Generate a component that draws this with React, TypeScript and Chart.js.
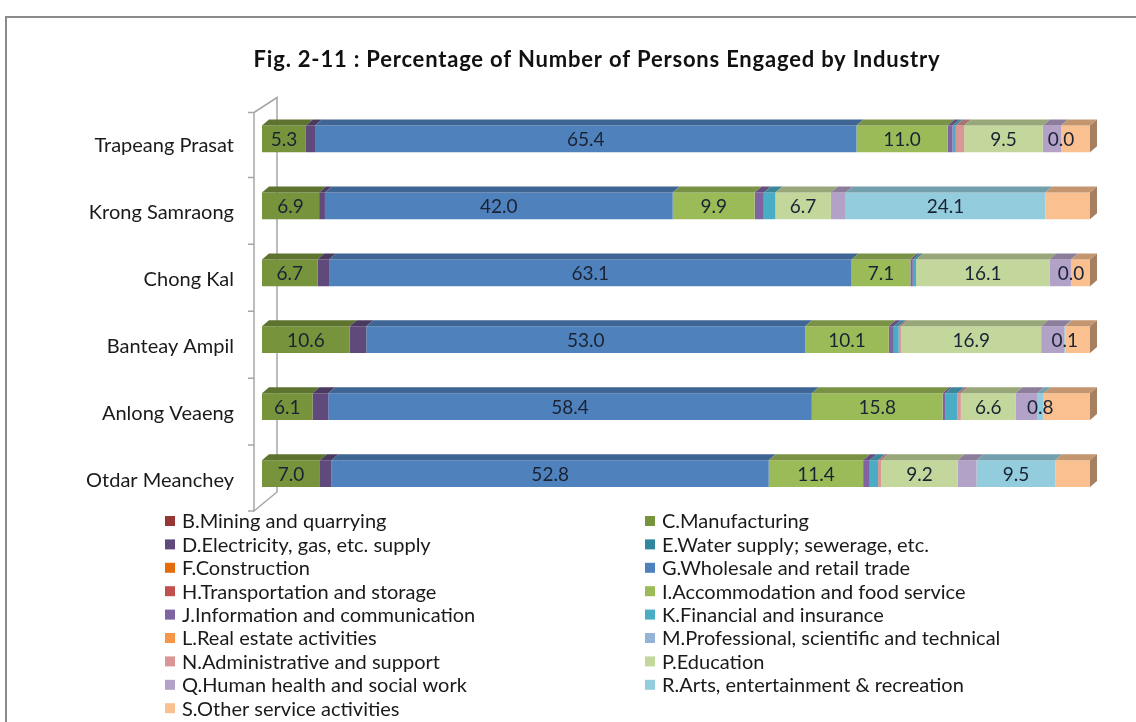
import React, { useEffect, useRef } from "react";
import { Chart, registerables } from "chart.js";

Chart.register(...registerables);

const titleText = "Fig. 2-11 : Percentage of Number of Persons Engaged by Industry";

const categories = [
  "Trapeang Prasat",
  "Krong Samraong",
  "Chong Kal",
  "Banteay Ampil",
  "Anlong Veaeng",
  "Otdar Meanchey",
];

const seriesNames = [
  "B.Mining and quarrying",
  "C.Manufacturing",
  "D.Electricity, gas, etc. supply",
  "E.Water supply; sewerage, etc.",
  "F.Construction",
  "G.Wholesale and retail trade",
  "H.Transportation and storage",
  "I.Accommodation and food service",
  "J.Information and communication",
  "K.Financial and insurance",
  "L.Real estate activities",
  "M.Professional, scientific and technical",
  "N.Administrative and support",
  "P.Education",
  "Q.Human health and social work",
  "R.Arts, entertainment & recreation",
  "S.Other service activities",
];

const mining = [0, 0, 0, 0, 0, 0];
const manufacturing = [5.3, 6.9, 6.7, 10.6, 6.1, 7.0];
const electricity = [1.1, 0.7, 1.4, 2.0, 1.9, 1.4];
const water = [0, 0, 0, 0, 0, 0];
const construction = [0, 0, 0, 0, 0, 0];
const wholesale = [65.4, 42.0, 63.1, 53.0, 58.4, 52.8];
const transport = [0, 0, 0, 0, 0, 0];
const accommodation = [11.0, 9.9, 7.1, 10.1, 15.8, 11.4];
const information = [0.6, 1.1, 0.3, 0.6, 0.3, 0.8];
const financial = [0.4, 1.4, 0.4, 0.6, 1.5, 1.0];
const realEstate = [0, 0, 0, 0, 0, 0];
const professional = [0, 0, 0, 0, 0, 0];
const administrative = [1.0, 0, 0, 0.3, 0.4, 0.4];
const education = [9.5, 6.7, 16.1, 16.9, 6.6, 9.2];
const health = [2.2, 1.8, 2.6, 2.8, 2.6, 2.3];
const arts = [0.0, 24.1, 0.0, 0.1, 0.8, 9.5];
const otherServices = [3.5, 5.4, 2.3, 3.0, 5.6, 4.2];

const seriesValues = [
  mining, manufacturing, electricity, water, construction, wholesale, transport,
  accommodation, information, financial, realEstate, professional, administrative,
  education, health, arts, otherServices,
];

const seriesColors = [
  "#953735", "#77933C", "#604A7B", "#31859C", "#E46C0A", "#4F81BD", "#C0504D",
  "#9BBB59", "#8064A2", "#4BACC6", "#F79646", "#95B3D7", "#D99694", "#C3D69B",
  "#B3A2C7", "#93CDDD", "#FAC090",
];

const labelledSeries = [
  "C.Manufacturing",
  "G.Wholesale and retail trade",
  "I.Accommodation and food service",
  "P.Education",
  "R.Arts, entertainment & recreation",
];

const FONT = "Lato, 'Open Sans', sans-serif";

function shade(hex: string, f: number) {
  const n = parseInt(hex.slice(1), 16);
  const r = Math.round(((n >> 16) & 255) * f);
  const g = Math.round(((n >> 8) & 255) * f);
  const b = Math.round((n & 255) * f);
  return `rgb(${r},${g},${b})`;
}

const DX = 7;
const DY = 6;

const titlePlugin = {
  id: "figTitle",
  afterDraw(chart: any) {
    const { ctx } = chart;
    ctx.save();
    ctx.font = `bold 22px ${FONT}`;
    (ctx as any).letterSpacing = "0.8px";
    ctx.fillStyle = "#111";
    ctx.textAlign = "center";
    ctx.textBaseline = "middle";
    ctx.fillText(titleText, 597, 60);
    ctx.restore();
  },
};

const wallPlugin = {
  id: "wall3d",
  beforeDatasetsDraw(chart: any) {
    const { ctx, chartArea } = chart;
    const ys = chart.scales.y;
    const n = categories.length;
    const step = ys.getPixelForValue(1) - ys.getPixelForValue(0);
    const fx = chartArea.left - 8;
    const bx = chartArea.left + 15;
    const fTop = chartArea.top + 7;
    const fBot = chartArea.bottom + 4;
    const bTop = chartArea.top - 8;
    const bBot = chartArea.bottom - 15;
    ctx.save();
    ctx.strokeStyle = "#a6a6a6";
    ctx.lineWidth = 1.5;
    ctx.beginPath();
    ctx.moveTo(fx, fTop);
    ctx.lineTo(fx, fBot);
    ctx.lineTo(bx, bBot);
    ctx.lineTo(bx, bTop);
    ctx.lineTo(fx, fTop);
    for (let i = 0; i <= n; i++) {
      const y = ys.getPixelForValue(0) - step / 2 + i * step + 5;
      const yy = Math.min(Math.max(y, fTop), fBot);
      ctx.moveTo(fx, yy);
      ctx.lineTo(fx - 6, yy);
    }
    ctx.stroke();
    ctx.restore();
  },
};

const barsPlugin = {
  id: "bars3d",
  afterDatasetsDraw(chart: any) {
    const { ctx } = chart;
    const dsets = chart.data.datasets;
    ctx.save();
    const lastPerRow: any[] = categories.map(() => null);
    dsets.forEach((ds: any, di: number) => {
      const meta = chart.getDatasetMeta(di);
      meta.data.forEach((el: any, i: number) => {
        const p = el.getProps(["x", "y", "base", "height"], true);
        const left = Math.min(p.x, p.base);
        const right = Math.max(p.x, p.base);
        if (right - left < 0.01) return;
        const top = p.y - p.height / 2;
        ctx.fillStyle = shade(ds.backgroundColor, 0.78);
        ctx.beginPath();
        ctx.moveTo(left, top);
        ctx.lineTo(right, top);
        ctx.lineTo(right + DX, top - DY);
        ctx.lineTo(left + DX, top - DY);
        ctx.closePath();
        ctx.fill();
        lastPerRow[i] = { right, top, bottom: p.y + p.height / 2, color: ds.backgroundColor };
      });
    });
    lastPerRow.forEach((r) => {
      if (!r) return;
      ctx.fillStyle = shade(r.color, 0.66);
      ctx.beginPath();
      ctx.moveTo(r.right, r.top);
      ctx.lineTo(r.right + DX, r.top - DY);
      ctx.lineTo(r.right + DX, r.bottom - DY);
      ctx.lineTo(r.right, r.bottom);
      ctx.closePath();
      ctx.fill();
    });
    ctx.font = `19px ${FONT}`;
    ctx.fillStyle = "#1a2333";
    ctx.textAlign = "center";
    ctx.textBaseline = "middle";
    dsets.forEach((ds: any, di: number) => {
      if (!labelledSeries.includes(ds.label)) return;
      const meta = chart.getDatasetMeta(di);
      meta.data.forEach((el: any, i: number) => {
        const p = el.getProps(["x", "y", "base"], true);
        const cx = (p.x + p.base) / 2;
        ctx.fillText(Number(ds.data[i]).toFixed(1), cx, p.y + 1);
      });
    });
    ctx.restore();
  },
};

const legendPlugin = {
  id: "twoColLegend",
  afterDraw(chart: any) {
    const { ctx } = chart;
    const colX = [165, 645];
    const y0 = 521;
    const rowH = 23.4;
    ctx.save();
    ctx.font = `20px ${FONT}`;
    ctx.textAlign = "left";
    ctx.textBaseline = "middle";
    chart.data.datasets.forEach((ds: any, i: number) => {
      const col = i % 2;
      const row = Math.floor(i / 2);
      const x = colX[col];
      const y = y0 + row * rowH;
      ctx.fillStyle = ds.backgroundColor;
      ctx.fillRect(x, y - 5, 10, 10);
      ctx.fillStyle = "#1a1a1a";
      ctx.fillText(ds.label, x + 17, y + 1);
    });
    ctx.restore();
  },
};

export default function App() {
  const ref = useRef<HTMLCanvasElement>(null);
  useEffect(() => {
    if (!ref.current) return;
    const chart = new Chart(ref.current, {
      type: "bar",
      data: {
        labels: categories,
        datasets: seriesNames.map((name, i) => ({
          label: name,
          data: seriesValues[i],
          backgroundColor: seriesColors[i],
          borderWidth: 0,
          barPercentage: 0.4,
          categoryPercentage: 1,
        })),
      },
      options: {
        indexAxis: "y",
        animation: false,
        responsive: false,
        layout: { padding: { left: 0, right: 46, top: 105.5, bottom: 215 } },
        plugins: {
          legend: { display: false },
          tooltip: { enabled: false },
          title: { display: false },
        },
        scales: {
          x: { stacked: true, min: 0, max: 100, display: false },
          y: {
            stacked: true,
            grid: { display: false, drawTicks: false },
            border: { display: false },
            ticks: {
              color: "#1a1a1a",
              font: { family: FONT, size: 20 },
              padding: 28,
              labelOffset: 7,
            },
            afterFit: (scale: any) => {
              scale.width = 262;
            },
          },
        },
      },
      plugins: [wallPlugin, barsPlugin, legendPlugin, titlePlugin],
    } as any);
    return () => chart.destroy();
  }, []);

  return (
    <div style={{ position: "fixed", left: 0, top: 0, width: 1136, height: 722, background: "#fff", overflow: "hidden" }}>
      <div
        style={{
          position: "absolute",
          left: 5,
          top: 16,
          width: 1200,
          height: 800,
          borderTop: "2px solid #8a8a8a",
          borderLeft: "2px solid #8a8a8a",
        }}
      />
      <canvas ref={ref} width={1136} height={722} style={{ position: "absolute", left: 0, top: 0 }} />
    </div>
  );
}
